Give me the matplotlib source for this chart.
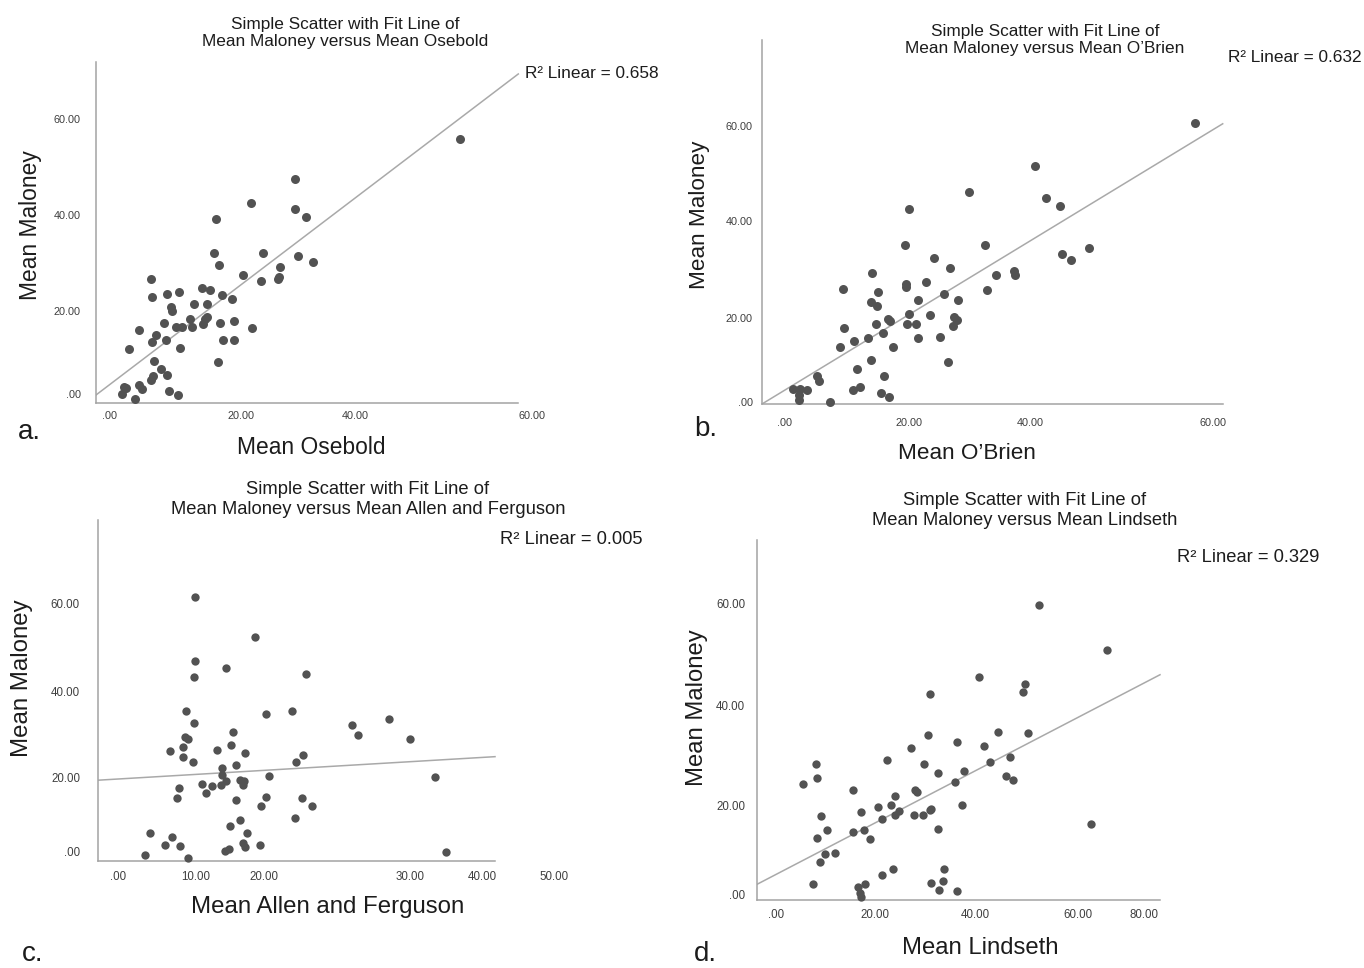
import numpy as np
import matplotlib
matplotlib.use("Agg")
import matplotlib.pyplot as plt

plt.rcParams['font.family'] = ['Liberation Sans', 'DejaVu Sans']

W, H = 1364, 968

# ---- data
osebold = [30.3, 23.1, 30.3, 32.1, 17.4, 17.0, 25.0, 17.9, 30.8, 33.1, 27.8, 21.8, 27.5, 27.6, 24.7,
           6.9, 7.0, 9.4, 11.4, 15.1, 16.5, 18.3, 20.0, 10.1, 10.2, 13.9, 16.0, 15.9, 15.6, 13.1,
           8.9, 10.9, 11.8, 13.5, 15.3, 18.1, 20.3, 23.3, 4.9, 7.6, 7.0, 9.3, 18.5, 20.3, 3.2,
           11.5, 17.7, 7.3, 8.4, 9.4, 7.1, 6.9, 2.5, 2.1, 2.7, 4.9, 5.4, 4.3, 9.7, 11.2, 57.1]
maloney_a = [47.5, 42.4, 41.2, 39.6, 39.2, 32.1, 32.1, 29.6, 31.5, 30.3, 29.1, 27.6, 26.7, 27.0, 26.3,
             26.6, 22.9, 23.6, 24.0, 24.8, 24.4, 23.3, 22.4, 20.8, 20.1, 21.4, 21.4, 18.7, 18.3, 18.3,
             17.6, 16.6, 16.6, 16.7, 17.2, 17.4, 17.9, 16.5, 16.0, 15.0, 13.5, 14.0, 14.0, 14.0, 12.1,
             12.3, 9.3, 9.6, 8.0, 6.6, 6.5, 5.6, 4.1, 2.8, 3.9, 4.5, 3.8, 1.7, 3.3, 2.6, 55.8]

obrien = [29.9, 20.0, 19.4, 32.6, 24.2, 26.9, 34.4, 13.9, 9.1, 19.5, 19.5, 15.0, 22.8, 33.0, 25.8,
          13.8, 14.8, 21.5, 28.2, 20.1, 23.6, 16.5, 16.9, 14.6, 19.7, 21.2, 27.5, 28.0, 27.4, 9.3,
          15.7, 11.0, 13.2, 21.5, 25.2, 8.6, 17.4, 13.8, 26.5, 11.4, 15.9, 4.8, 5.1, 11.9, 10.8,
          15.5, 16.7, 0.9, 2.1, 3.2, 1.9, 1.9, 7.0, 67.4, 40.9, 42.7, 45.1, 45.4, 46.8, 49.9,
          37.4, 37.6]
maloney_b = [46.1, 42.7, 35.1, 35.1, 32.4, 30.3, 28.8, 29.3, 26.0, 27.0, 26.4, 25.3, 27.3, 25.7, 24.8,
             23.2, 22.3, 23.6, 23.6, 20.7, 20.5, 19.7, 19.3, 18.6, 18.6, 18.6, 20.2, 19.4, 18.3, 17.8,
             16.8, 15.2, 15.7, 15.7, 15.9, 13.8, 13.9, 11.1, 10.7, 9.3, 7.9, 7.9, 6.8, 5.6, 4.8,
             4.3, 3.5, 5.2, 5.2, 4.9, 3.8, 2.8, 2.3, 60.6, 51.6, 44.8, 43.2, 33.2, 31.9, 34.5,
             29.6, 28.9]

allen_ferguson = [8.4, 15.0, 8.4, 11.8, 8.3, 20.6, 7.4, 16.2, 19.1, 8.3, 7.3, 7.7, 12.6, 7.1, 12.4,
                  5.7, 10.9, 13.9, 7.1, 8.2, 12.9, 19.5, 20.3, 11.4, 11.4, 16.6, 9.2, 10.3, 11.3, 11.8,
                  13.4, 13.8, 13.7, 6.7, 9.6, 6.5, 12.9, 16.2, 15.7, 20.2, 21.3, 19.4, 13.4, 12.3, 14.1,
                  3.5, 5.9, 5.1, 6.8, 15.6, 13.7, 13.9, 11.7, 12.2, 2.9, 7.7, 25.7, 29.8, 26.4, 32.1,
                  34.8, 36.0]
maloney_c = [61.6, 52.4, 46.8, 45.4, 43.3, 43.8, 35.4, 34.8, 35.5, 32.6, 29.5, 29.0, 30.5, 27.2, 27.5,
             26.1, 26.5, 25.8, 24.8, 23.7, 23.1, 23.7, 25.4, 22.3, 20.7, 20.5, 18.6, 18.2, 18.5, 19.2,
             19.5, 19.2, 18.5, 17.7, 16.6, 15.5, 14.9, 15.6, 13.6, 15.5, 13.5, 10.7, 10.4, 8.9, 7.4,
             7.4, 6.4, 4.6, 4.4, 4.5, 5.1, 4.2, 3.2, 3.7, 2.2, 1.7, 32.2, 33.5, 29.8, 29.0,
             20.2, 2.9]

lindseth = [40.6, 30.8, 44.4, 30.4, 36.3, 41.6, 27.2, 22.3, 29.8, 42.8, 8.3, 8.6, 5.7, 32.5, 37.6,
            35.8, 15.6, 27.9, 28.3, 23.9, 20.5, 23.2, 17.2, 23.9, 24.7, 21.4, 27.7, 29.6, 30.8, 31.1,
            37.2, 9.4, 10.4, 15.7, 17.9, 8.5, 19.1, 32.5, 10.1, 12.0, 9.2, 23.6, 21.3, 33.6, 7.7,
            16.6, 18.1, 31.1, 33.4, 32.7, 36.3, 17.0, 17.2, 52.5, 66.0, 49.8, 49.4, 50.3, 46.7,
            45.9, 47.4, 62.8]
maloney_d = [45.4, 42.0, 34.5, 33.9, 32.6, 31.8, 31.4, 29.0, 28.3, 28.7, 28.3, 25.5, 24.3, 26.5, 26.8,
             24.8, 23.2, 23.2, 22.7, 21.9, 19.8, 20.1, 18.8, 18.2, 19.0, 17.4, 18.2, 18.2, 19.2, 19.5,
             20.2, 18.0, 15.3, 14.8, 15.3, 13.6, 13.4, 15.5, 10.5, 10.7, 9.0, 7.5, 6.5, 7.6, 4.7,
             4.1, 4.7, 4.9, 5.3, 3.4, 3.3, 2.8, 2.1, 59.6, 50.8, 44.1, 42.4, 34.4, 29.7,
             26.0, 25.2, 16.4]

# fit line (intercept, slope) and R squared as printed
fits = [(4.56, 0.974), (5.25, 0.766), (19.77, 0.124), (6.31, 0.5175)]
r2 = ['0.658', '0.632', '0.005', '0.329']
names = ['Osebold', "O\u2019Brien", 'Allen and Ferguson', 'Lindseth']
letters = ['a.', 'b.', 'c.', 'd.']

# ---- layout, in pixels of the 1364x968 canvas
panels = [
    dict(xs=osebold, ys=maloney_a, rect=(96, 62, 548, 403), spine_r=518.3,
         x0=109, sx=6.15, y0=407, sy=4.8,
         xticks=[0, 21.5, 40, 68.8], xlabels=['.00', '20.00', '40.00', '60.00'],
         yticks=[2.7, 20, 40, 60], xpad=6, ypad=11, tsize=7.8, ms=42,
         title_xy=(345, 33), r2_xy=(525, 74), xl_xy=(311, 447), yl_xy=(31, 225),
         let_xy=(18, 445), fs_t=12.4, fs_l=16.4),
    dict(xs=obrien, ys=maloney_b, rect=(762, 40, 1232, 404), spine_r=1222.7,
         x0=787.8, sx=6.045, y0=413.5, sy=4.8,
         xticks=[-0.6, 20.05, 40.07, 70.34], xlabels=['.00', '20.00', '40.00', '60.00'],
         yticks=[2.46, 20.0, 40.1, 59.9], xpad=10, ypad=6.5, tsize=7.8, ms=42,
         title_xy=(1045, 40), r2_xy=(1228, 58), xl_xy=(967, 453), yl_xy=(700, 215),
         let_xy=(694, 442), fs_t=12.4, fs_l=16.2),
    dict(xs=allen_ferguson, ys=maloney_c, rect=(98, 520, 570, 861), spine_r=495,
         x0=118.2, sx=9.1, y0=865, sy=4.35,
         xticks=[0, 8.53, 16.04, 32.07, 40.0, 47.92],
         xlabels=['.00', '10.00', '20.00', '30.00', '40.00', '50.00'],
         yticks=[2.99, 20, 40, 60], xpad=7, ypad=13, tsize=8.3, ms=36,
         title_xy=(368, 499.5), r2_xy=(500, 540), xl_xy=(328, 907), yl_xy=(22, 678),
         let_xy=(22, 967), fs_t=13.2, fs_l=17.3),
    dict(xs=lindseth, ys=maloney_d, rect=(757, 540, 1165, 900), spine_r=1160,
         x0=774, sx=5.05, y0=907.5, sy=5.075,
         xticks=[0.4, 20.0, 39.8, 60.2, 73.3],
         xlabels=['.00', '20.00', '40.00', '60.00', '80.00'],
         yticks=[2.66, 20, 39.9, 60], xpad=6.5, ypad=8.6, tsize=8.3, ms=36,
         title_xy=(1025, 510.5), r2_xy=(1177, 557), xl_xy=(980, 948), yl_xy=(697, 708),
         let_xy=(694, 967), fs_t=13.2, fs_l=17.2),
]

ylabels = ['.00', '20.00', '40.00', '60.00']
dot_c = '#525252'
line_c = '#a9a9a9'
txt_c = '#1c1c1c'
tick_c = '#3f3f3f'

fig = plt.figure(figsize=(W / 100, H / 100), dpi=100)

for i, p in enumerate(panels):
    left, top, right, bottom = p['rect']
    ax = fig.add_axes([left / W, 1 - bottom / H, (right - left) / W, (bottom - top) / H])
    xlo, xhi = (left - p['x0']) / p['sx'], (right - p['x0']) / p['sx']
    ylo, yhi = (p['y0'] - bottom) / p['sy'], (p['y0'] - top) / p['sy']
    ax.set_xlim(xlo, xhi)
    ax.set_ylim(ylo, yhi)
    x_end = (p['spine_r'] - p['x0']) / p['sx']

    for s in ['top', 'right']:
        ax.spines[s].set_visible(False)
    for s in ['left', 'bottom']:
        ax.spines[s].set_color('#a3a3a3')
        ax.spines[s].set_linewidth(1.1)
    ax.spines['bottom'].set_bounds(xlo, x_end)

    b0, b1 = fits[i]
    fx_ = np.array([xlo, x_end])
    ax.plot(fx_, b0 + b1 * fx_, color=line_c, lw=1.1, zorder=2)
    ax.scatter(p['xs'], p['ys'], s=p['ms'], color=dot_c, linewidths=0, zorder=3, clip_on=False)

    ax.set_xticks(p['xticks'], p['xlabels'])
    ax.set_yticks(p['yticks'], ylabels)
    ax.tick_params(axis='x', length=0, pad=p['xpad'], labelsize=p['tsize'], labelcolor=tick_c)
    ax.tick_params(axis='y', length=0, pad=p['ypad'], labelsize=p['tsize'], labelcolor=tick_c)

    tx, ty = p['title_xy']
    fig.text(tx / W, 1 - ty / H,
             'Simple Scatter with Fit Line of\nMean Maloney versus Mean ' + names[i],
             ha='center', va='center', multialignment='center', fontsize=p['fs_t'],
             color=txt_c, linespacing=1.2)
    rx, ry = p['r2_xy']
    fig.text(rx / W, 1 - ry / H, 'R\u00b2 Linear = ' + r2[i], ha='left', va='center',
             fontsize=p['fs_t'], color=txt_c)
    lx, ly = p['xl_xy']
    fig.text(lx / W, 1 - ly / H, 'Mean ' + names[i], ha='center', va='center',
             fontsize=p['fs_l'], color=txt_c)
    yx, yy = p['yl_xy']
    fig.text(yx / W, 1 - yy / H, 'Mean Maloney', ha='center', va='center', rotation=90,
             fontsize=p['fs_l'], color=txt_c)
    gx, gy = p['let_xy']
    fig.text(gx / W, 1 - gy / H, letters[i], ha='left', va='bottom', fontsize=20, color=txt_c)

fig.savefig('out.png', dpi=100)
